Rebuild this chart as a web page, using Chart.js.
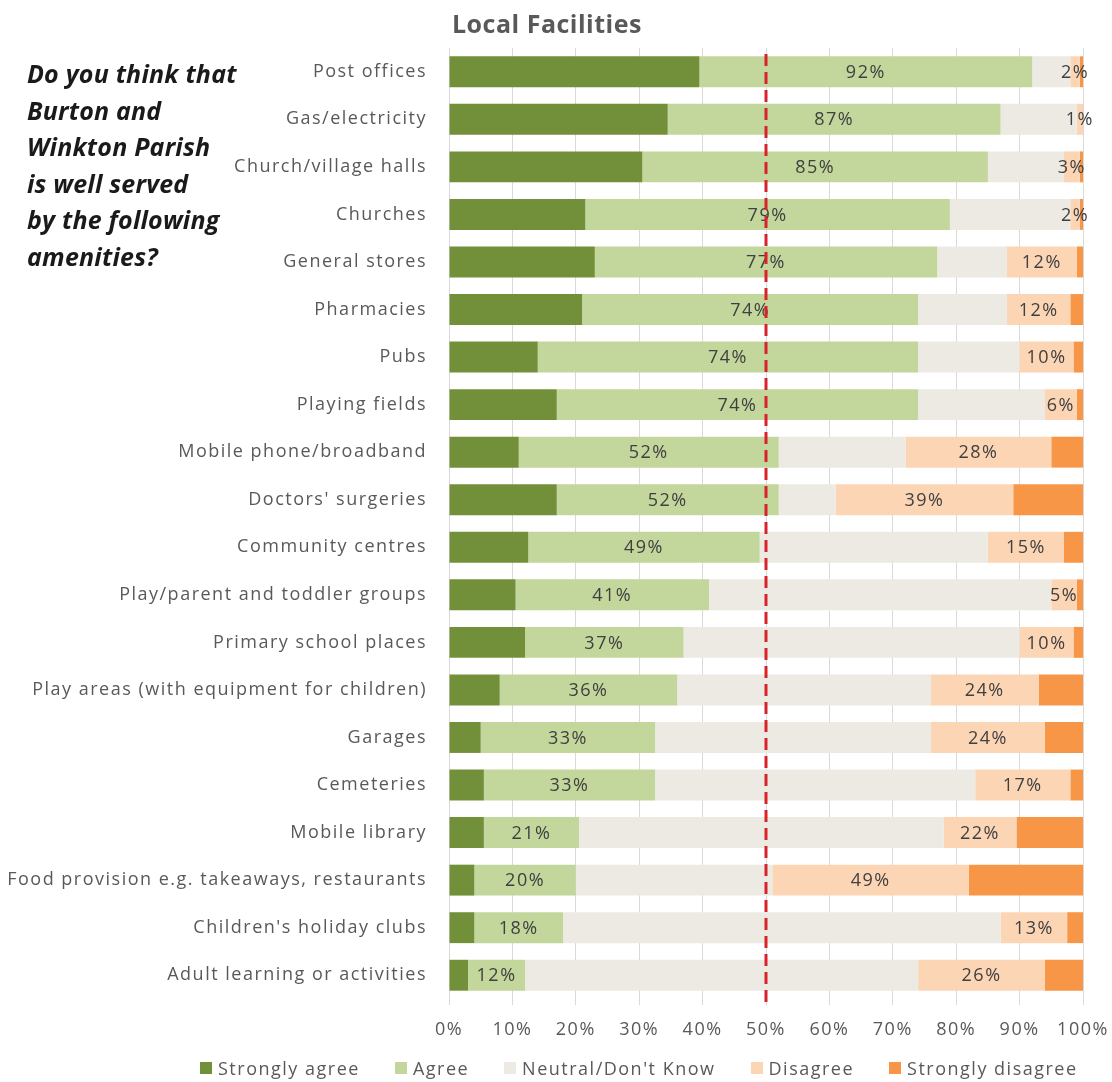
<!DOCTYPE html>
<html lang="en">
<head>
  <meta charset="UTF-8">
  <title>Local Facilities</title>
  <script src="https://cdn.jsdelivr.net/npm/chart.js"></script>
  <style>
    body { margin: 0; background: #fff; }
    #wrap { position: relative; width: 1112px; height: 1082px; font-family: "Open Sans", sans-serif; }
    #myChart { position: absolute; left: 0; top: 0; }
    #title { position: absolute; left: 452px; top: 8px; font-size: 25px; font-weight: bold; color: #595959; line-height: 30px; letter-spacing: 0.5px; }
    #question { position: absolute; left: 27px; top: 55px; font-size: 25px; font-weight: bold; font-style: italic; color: #1a1a1a; line-height: 36.5px; letter-spacing: 0.2px; }
    #legend { position: absolute; left: 200px; top: 1056px; width: 912px; display: flex; align-items: center; white-space: nowrap; font-size: 18px; color: #595959; line-height: 24px; letter-spacing: 1.5px; }
    #legend span.item { display: flex; align-items: center; flex: none; margin-right: 35px; }
    #legend span.box { width: 12px; height: 12px; margin-right: 6px; flex: none; }
  </style>
</head>
<body>
  <div id="wrap">
    <canvas id="myChart" width="1112" height="1082"></canvas>
    <div id="title">Local Facilities</div>
    <div id="question">Do you think that<br>Burton and<br>Winkton Parish<br>is well served<br>by the following<br>amenities?</div>
    <div id="legend"></div>
  </div>

  <script>
    // amenities, top to bottom
    const categories = [
      'Post offices',
      'Gas/electricity',
      'Church/village halls',
      'Churches',
      'General stores',
      'Pharmacies',
      'Pubs',
      'Playing fields',
      'Mobile phone/broadband',
      "Doctors' surgeries",
      'Community centres',
      'Play/parent and toddler groups',
      'Primary school places',
      'Play areas (with equipment for children)',
      'Garages',
      'Cemeteries',
      'Mobile library',
      'Food provision e.g. takeaways, restaurants',
      "Children's holiday clubs",
      'Adult learning or activities'
    ];

    // share of answers, percent
    const strongAgree    = [39.5, 34.5, 30.5, 21.5, 23, 21, 14, 17, 11, 17, 12.5, 10.5, 12, 8, 5, 5.5, 5.5, 4, 4, 3];
    const agree          = [52.5, 52.5, 54.5, 57.5, 54, 53, 60, 57, 41, 35, 36.5, 30.5, 25, 28, 27.5, 27, 15, 16, 14, 9];
    const neutral        = [6, 12, 12, 19, 11, 14, 16, 20, 20, 9, 36, 54, 53, 40, 43.5, 50.5, 57.5, 31, 69, 62];
    const disagree       = [1.5, 1, 2.5, 1.5, 11, 10, 8.5, 5, 23, 28, 12, 4, 8.5, 17, 18, 15, 11.5, 31, 10.5, 20];
    const strongDisagree = [0.5, 0, 0.5, 0.5, 1, 2, 1.5, 1, 5, 11, 3, 1, 1.5, 7, 6, 2, 10.5, 18, 2.5, 6];

    const seriesNames = ['Strongly agree', 'Agree', "Neutral/Don't Know", 'Disagree', 'Strongly disagree'];
    const seriesColors = ['#72903a', '#c3d69b', '#eceae3', '#fcd5b5', '#f79646'];
    const xTicks = [0, 10, 20, 30, 40, 50, 60, 70, 80, 90, 100];
    const midLine = 50;

    const FONT = '"Open Sans", sans-serif';

    // slightly spaced lettering for all canvas text
    const textSpacing = {
      id: 'textSpacing',
      beforeDraw(chart) { chart.ctx.letterSpacing = '1.5px'; }
    };

    // totals written on the agree and disagree parts of each bar
    const barLabels = {
      id: 'barLabels',
      afterDatasetsDraw(chart) {
        const ctx = chart.ctx;
        const agreeBars = chart.getDatasetMeta(1).data;
        const disBars = chart.getDatasetMeta(3).data;
        ctx.save();
        ctx.font = '18px ' + FONT;
        ctx.fillStyle = '#404040';
        ctx.textAlign = 'center';
        ctx.textBaseline = 'middle';
        categories.forEach((c, i) => {
          const a = agreeBars[i];
          ctx.fillText(Math.round(strongAgree[i] + agree[i]) + '%', (a.x + a.base) / 2, a.y + 1);
          const d = disBars[i];
          ctx.fillText(Math.round(disagree[i] + strongDisagree[i]) + '%', (d.x + d.base) / 2, d.y + 1);
        });

        // red dashed marker at 50%
        const x = chart.scales.x.getPixelForValue(midLine);
        ctx.strokeStyle = '#d8232a';
        ctx.lineWidth = 3;
        ctx.setLineDash([12, 6]);
        ctx.beginPath();
        ctx.moveTo(x, chart.chartArea.top + 6);
        ctx.lineTo(x, chart.chartArea.bottom + 4);
        ctx.stroke();
        ctx.restore();
      }
    };

    const ctx = document.getElementById('myChart').getContext('2d');
    const seriesData = [strongAgree, agree, neutral, disagree, strongDisagree];

    const chart = new Chart(ctx, {
      type: 'bar',
      data: {
        labels: categories,
        datasets: seriesNames.map((name, k) => ({
          label: name,
          data: seriesData[k],
          backgroundColor: seriesColors[k],
          borderWidth: 0,
          barPercentage: 0.65,
          categoryPercentage: 1.0
        }))
      },
      options: {
        indexAxis: 'y',
        responsive: false,
        animation: false,
        layout: { padding: { top: 48, right: 29, bottom: 0, left: 0 } },
        plugins: {
          legend: { display: false },
          tooltip: { enabled: false },
          title: { display: false }
        },
        scales: {
          x: {
            stacked: true,
            min: 0,
            max: 100,
            afterBuildTicks: (scale) => { scale.ticks = xTicks.map(v => ({ value: v })); },
            ticks: {
              callback: (v) => v + '%',
              color: '#595959',
              font: { family: FONT, size: 18 },
              padding: 14,
              maxRotation: 0
            },
            grid: { color: '#d9d9d9', tickLength: 6 },
            border: { display: false },
            afterFit: (scale) => {
              scale.height = 83;
              scale.paddingLeft = 0;
              scale.paddingRight = 0;
            }
          },
          y: {
            stacked: true,
            grid: { display: false, drawTicks: false },
            border: { display: false },
            ticks: {
              color: '#595959',
              font: { family: FONT, size: 18 },
              padding: 22,
              autoSkip: false
            },
            afterFit: (scale) => {
              scale.width = 449;
              scale.paddingTop = 0;
              scale.paddingBottom = 0;
            }
          }
        }
      },
      plugins: [textSpacing, barLabels]
    });

    // legend row under the axis
    const legend = document.getElementById('legend');
    chart.data.datasets.forEach(ds => {
      const item = document.createElement('span');
      item.className = 'item';
      const box = document.createElement('span');
      box.className = 'box';
      box.style.background = ds.backgroundColor;
      item.appendChild(box);
      item.appendChild(document.createTextNode(ds.label));
      legend.appendChild(item);
    });
  </script>
</body>
</html>
